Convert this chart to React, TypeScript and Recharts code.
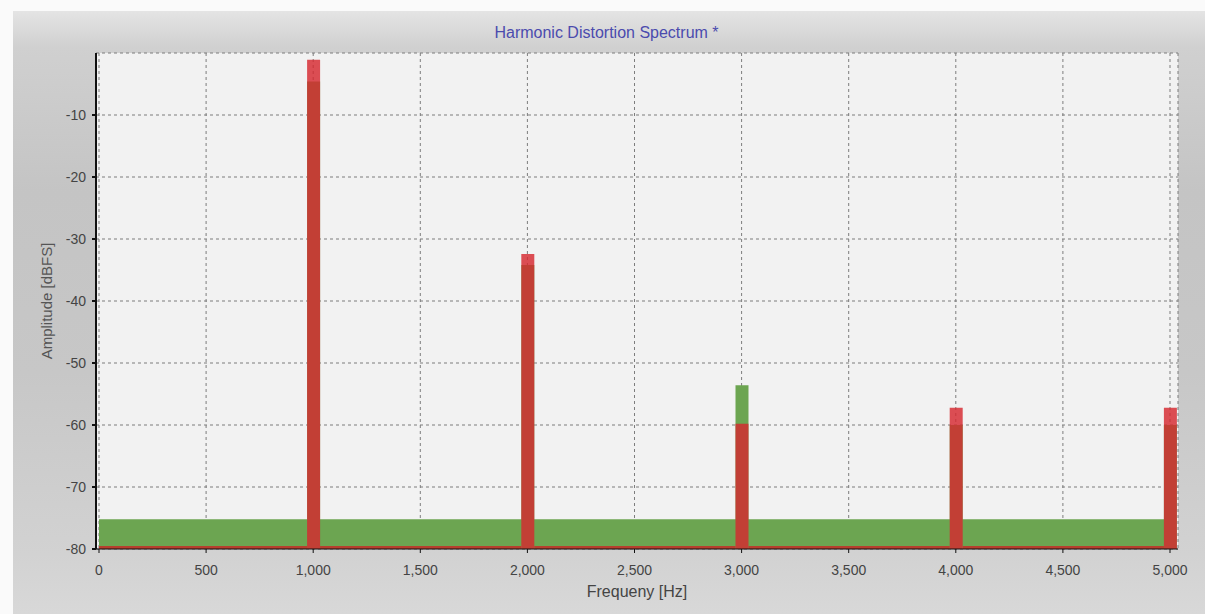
import React from 'react';
import {
  ComposedChart,
  Bar,
  Area,
  XAxis,
  YAxis,
  CartesianGrid,
} from 'recharts';

// harmonic frequencies (Hz) and levels (dBFS)
const frequencies = [0, 1000, 2000, 3000, 4000, 5000];
const limitLevels = [null, -4.6, -34.2, -53.6, -60, -60];
const measuredLevels = [null, -1.1, -32.4, -59.8, -57.2, -57.2];
const limitFloor = -75.2;
const measuredFloor = -79.5;

const xTicks = [0, 500, 1000, 1500, 2000, 2500, 3000, 3500, 4000, 4500, 5000];
const yTicks = [-80, -70, -60, -50, -40, -30, -20, -10];
const yMin = -80;

const data = frequencies.map((f, i) => ({
  freq: f,
  limit: limitLevels[i] === null ? null : [yMin, limitLevels[i]],
  measured: measuredLevels[i] === null ? null : [yMin, measuredLevels[i]],
  limitFloor: i === 0 || i === frequencies.length - 1 ? limitFloor : null,
  measuredFloor: i === 0 || i === frequencies.length - 1 ? measuredFloor : null,
}));

const FONT = '"Liberation Sans", Arial, sans-serif';
const BAR_W = 13;

export default function App() {
  return (
    <div
      style={{
        position: 'absolute',
        left: 0,
        top: 0,
        width: 1205,
        height: 614,
        background: '#fafafa',
        fontFamily: FONT,
        overflow: 'hidden',
      }}
    >
      <div
        style={{
          position: 'absolute',
          left: 13,
          top: 11,
          width: 1192,
          height: 603,
          background:
            'linear-gradient(180deg, #e4e4e4 0%, #d0d0d0 6%, #c4c4c4 30%, #c7c7c7 60%, #d2d2d2 90%, #d8d8d8 100%)',
        }}
      />
      <div
        style={{
          position: 'absolute',
          left: 4,
          top: 24,
          width: 1205,
          textAlign: 'center',
          fontSize: 16,
          color: '#4b4bae',
        }}
      >
        Harmonic Distortion Spectrum *
      </div>
      <div style={{ position: 'absolute', left: 0, top: 0 }}>
        <ComposedChart
          width={1205}
          height={614}
          data={data}
          barGap={-BAR_W}
          margin={{ top: 53, right: 27, bottom: 35, left: 44 }}
        >
          <CartesianGrid
            stroke="#7d7d7d"
            strokeDasharray="3 3"
            fill="#f2f2f2"
            fillOpacity={1}
          />
          <XAxis
            dataKey="freq"
            type="number"
            domain={[0, 5000]}
            ticks={xTicks}
            padding={{ left: 3, right: 8 }}
            height={30}
            stroke="#111"
            tickSize={4}
            tickMargin={12}
            tick={{ fontSize: 14, fill: '#444', fontFamily: FONT }}
            tickFormatter={(v: number) => v.toLocaleString('en-US')}
            label={{
              value: 'Frequeny [Hz]',
              position: 'bottom',
              offset: 7,
              fontSize: 16,
              fill: '#444',
              fontFamily: FONT,
            }}
          />
          <YAxis
            type="number"
            domain={[yMin, 0]}
            ticks={yTicks}
            width={52}
            stroke="#111"
            strokeWidth={2}
            tickSize={4}
            tickMargin={6}
            tick={{ fontSize: 14, fill: '#444', fontFamily: FONT }}
            label={{
              value: 'Amplitude [dBFS]',
              angle: -90,
              position: 'insideLeft',
              offset: 3,
              style: { textAnchor: 'middle' },
              fontSize: 15,
              fill: '#555',
              fontFamily: FONT,
            }}
          />
          <Area
            dataKey="limitFloor"
            baseValue={yMin}
            connectNulls
            type="linear"
            stroke="none"
            fill="#6ca551"
            fillOpacity={1}
            isAnimationActive={false}
          />
          <Bar
            dataKey="limit"
            barSize={BAR_W}
            fill="#6ca551"
            isAnimationActive={false}
          />
          <Area
            dataKey="measuredFloor"
            baseValue={yMin}
            connectNulls
            type="linear"
            stroke="none"
            fill="#bb3a2c"
            fillOpacity={0.95}
            isAnimationActive={false}
          />
          <Bar
            dataKey="measured"
            barSize={BAR_W}
            fill="rgba(214, 40, 48, 0.82)"
            isAnimationActive={false}
          />
        </ComposedChart>
      </div>
    </div>
  );
}
